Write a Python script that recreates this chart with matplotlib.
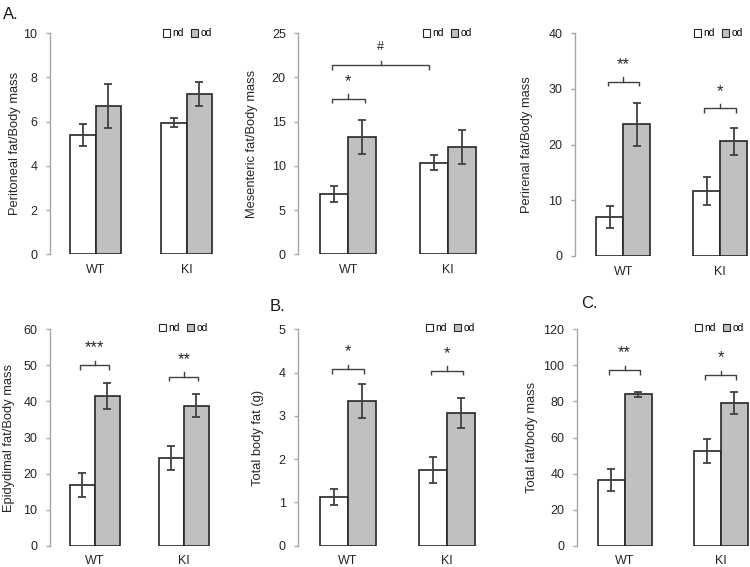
import matplotlib
matplotlib.use("Agg")
import matplotlib.pyplot as plt
from matplotlib.patches import Patch
import numpy as np

plt.rcParams['font.family'] = ['Liberation Sans', 'DejaVu Sans']

# ---------------- data ----------------
groups = ["WT", "KI"]
series = ["nd", "od"]

peritoneal_nd = [5.38, 5.96]
peritoneal_nd_err = [0.50, 0.20]
peritoneal_od = [6.71, 7.24]
peritoneal_od_err = [0.98, 0.55]

mesenteric_nd = [6.85, 10.38]
mesenteric_nd_err = [0.90, 0.90]
mesenteric_od = [13.25, 12.15]
mesenteric_od_err = [1.92, 1.92]

perirenal_nd = [6.95, 11.68]
perirenal_nd_err = [1.95, 2.45]
perirenal_od = [23.65, 20.6]
perirenal_od_err = [3.9, 2.4]

epididymal_nd = [16.8, 24.4]
epididymal_nd_err = [3.4, 3.3]
epididymal_od = [41.5, 38.8]
epididymal_od_err = [3.6, 3.25]

total_fat_nd = [1.125, 1.74]
total_fat_nd_err = [0.19, 0.30]
total_fat_od = [3.34, 3.07]
total_fat_od_err = [0.39, 0.345]

fat_ratio_nd = [36.4, 52.5]
fat_ratio_nd_err = [5.9, 6.5]
fat_ratio_od = [83.9, 79.1]
fat_ratio_od_err = [1.6, 6.1]

ylabels = ["Peritoneal fat/Body mass", "Mesenteric fat/Body mass",
           "Perirenal fat/Body mass", "Epidydimal fat/Body mass",
           "Total body fat (g)", "Total fat/body mass"]
ymaxes = [10, 25, 40, 60, 5, 120]
ysteps = [2, 5, 10, 10, 1, 20]

# significance marks: (label, bracket level, group index)
sig_marks = [
    [],
    [("*", 17.6, 0)],
    [("**", 31.3, 0), ("*", 26.5, 1)],
    [("***", 50.1, 0), ("**", 46.9, 1)],
    [("*", 4.08, 0), ("*", 4.04, 1)],
    [("**", 97.4, 0), ("*", 94.6, 1)],
]
genotype_mark = ("#", 21.4)   # mesenteric, WT nd vs KI nd

panel_letters = [("A.", 3, 7), ("B.", 270, 299), ("C.", 581, 296)]

# ---------------- layout (pixels) ----------------
W, H = 750, 567
# spine x, group spacing, top y, zero y, ylabel right edge x
layout = [
    (50.0, 91.0, 33.3, 254.3, 21),
    (298.3, 100.0, 33.3, 254.3, 258),
    (575.0, 96.7, 33.3, 256.0, 533),
    (50.0, 89.3, 329.3, 545.7, 15.5),
    (298.3, 99.3, 329.3, 545.7, 264),
    (576.7, 96.0, 329.3, 545.7, 538.5),
]
legend_pos = [(163, 33.5), (423, 33.5), (694, 33.5),
              (159, 328), (426, 328), (695, 328)]

nd_vals = [peritoneal_nd, mesenteric_nd, perirenal_nd, epididymal_nd, total_fat_nd, fat_ratio_nd]
nd_errs = [peritoneal_nd_err, mesenteric_nd_err, perirenal_nd_err, epididymal_nd_err, total_fat_nd_err, fat_ratio_nd_err]
od_vals = [peritoneal_od, mesenteric_od, perirenal_od, epididymal_od, total_fat_od, fat_ratio_od]
od_errs = [peritoneal_od_err, mesenteric_od_err, perirenal_od_err, epididymal_od_err, total_fat_od_err, fat_ratio_od_err]

fig = plt.figure(figsize=(W / 100, H / 100), dpi=100)

edge = "#262626"
gray_fill = "#c0c0c0"
errc = "#404040"
spinec = "#a6a6a6"
bw = 0.28
x = np.arange(len(groups))


def bracket(ax, x1, x2, y, h):
    xm = (x1 + x2) / 2
    ax.plot([x1, x1, x2, x2], [y - h, y, y, y - h], color=errc, lw=1.0,
            solid_capstyle='butt', clip_on=False)
    ax.plot([xm, xm], [y, y + h], color=errc, lw=1.0, clip_on=False)


for i in range(6):
    sx, sp, ty, zy, lx = layout[i]
    axw = 2 * sp
    ax = fig.add_axes([sx / W, 1 - zy / H, axw / W, (zy - ty) / H])
    ax.set_xlim(-0.5, 1.5)
    ax.set_ylim(0, ymaxes[i])
    ax.patch.set_alpha(0)

    ax.bar(x - bw / 2, nd_vals[i], bw, color="white", edgecolor=edge, linewidth=1.2, zorder=2)
    ax.bar(x + bw / 2, od_vals[i], bw, color=gray_fill, edgecolor=edge, linewidth=1.2, zorder=2)
    ax.errorbar(x - bw / 2, nd_vals[i], yerr=nd_errs[i], fmt='none', ecolor=errc,
                elinewidth=1.3, capsize=3, capthick=1.3, zorder=3)
    ax.errorbar(x + bw / 2, od_vals[i], yerr=od_errs[i], fmt='none', ecolor=errc,
                elinewidth=1.3, capsize=3, capthick=1.3, zorder=3)

    for s in ['top', 'right', 'bottom']:
        ax.spines[s].set_visible(False)
    ax.spines['left'].set_color(spinec)
    ax.spines['left'].set_linewidth(1.0)
    ax.set_yticks(np.arange(0, ymaxes[i] + ysteps[i] / 2, ysteps[i]))
    ax.tick_params(axis='y', length=3, width=1.0, color=spinec, labelsize=9,
                   labelcolor="#262626", pad=6)
    ax.set_xticks(x)
    ax.set_xticklabels(groups)
    ax.tick_params(axis='x', length=0, labelsize=9, labelcolor="#262626", pad=7)

    ax.set_ylabel(ylabels[i], fontsize=9.3, color="#262626")
    ax.yaxis.set_label_coords((lx - sx) / axw, 0.5)

    h = ymaxes[i] * 4.5 / (zy - ty)
    for lab, lev, g in sig_marks[i]:
        bracket(ax, g - 0.58 * bw, g + 0.58 * bw, lev, h)
        ax.annotate(lab, (g, lev), xytext=(0, 9), textcoords='offset points',
                    ha='center', va='baseline', fontsize=12, color="#262626")
    if i == 1:
        lab, lev = genotype_mark
        bracket(ax, 0 - 0.57 * bw, 1 - 0.70 * bw, lev, h)
        xm = (0 - 0.57 * bw + 1 - 0.70 * bw) / 2
        ax.annotate(lab, (xm, lev), xytext=(0, 11), textcoords='offset points',
                    ha='center', va='baseline', fontsize=9, color="#262626")

    handles = [Patch(facecolor="white", edgecolor=edge, linewidth=0.8, label=series[0]),
               Patch(facecolor=gray_fill, edgecolor=edge, linewidth=0.8, label=series[1])]
    lpx, lpy = legend_pos[i]
    ax.legend(handles=handles, loc='center left', ncol=2, frameon=False,
              bbox_to_anchor=(lpx / W, 1 - lpy / H), bbox_transform=fig.transFigure,
              fontsize=7.5, handlelength=0.7, handleheight=0.7, handletextpad=0.2,
              columnspacing=0.7, borderpad=0, borderaxespad=0)

for txt, px, py in panel_letters:
    fig.text(px / W, 1 - py / H, txt, fontsize=12, ha='left', va='top', color="#1a1a1a")

fig.savefig("out.png", dpi=100)
